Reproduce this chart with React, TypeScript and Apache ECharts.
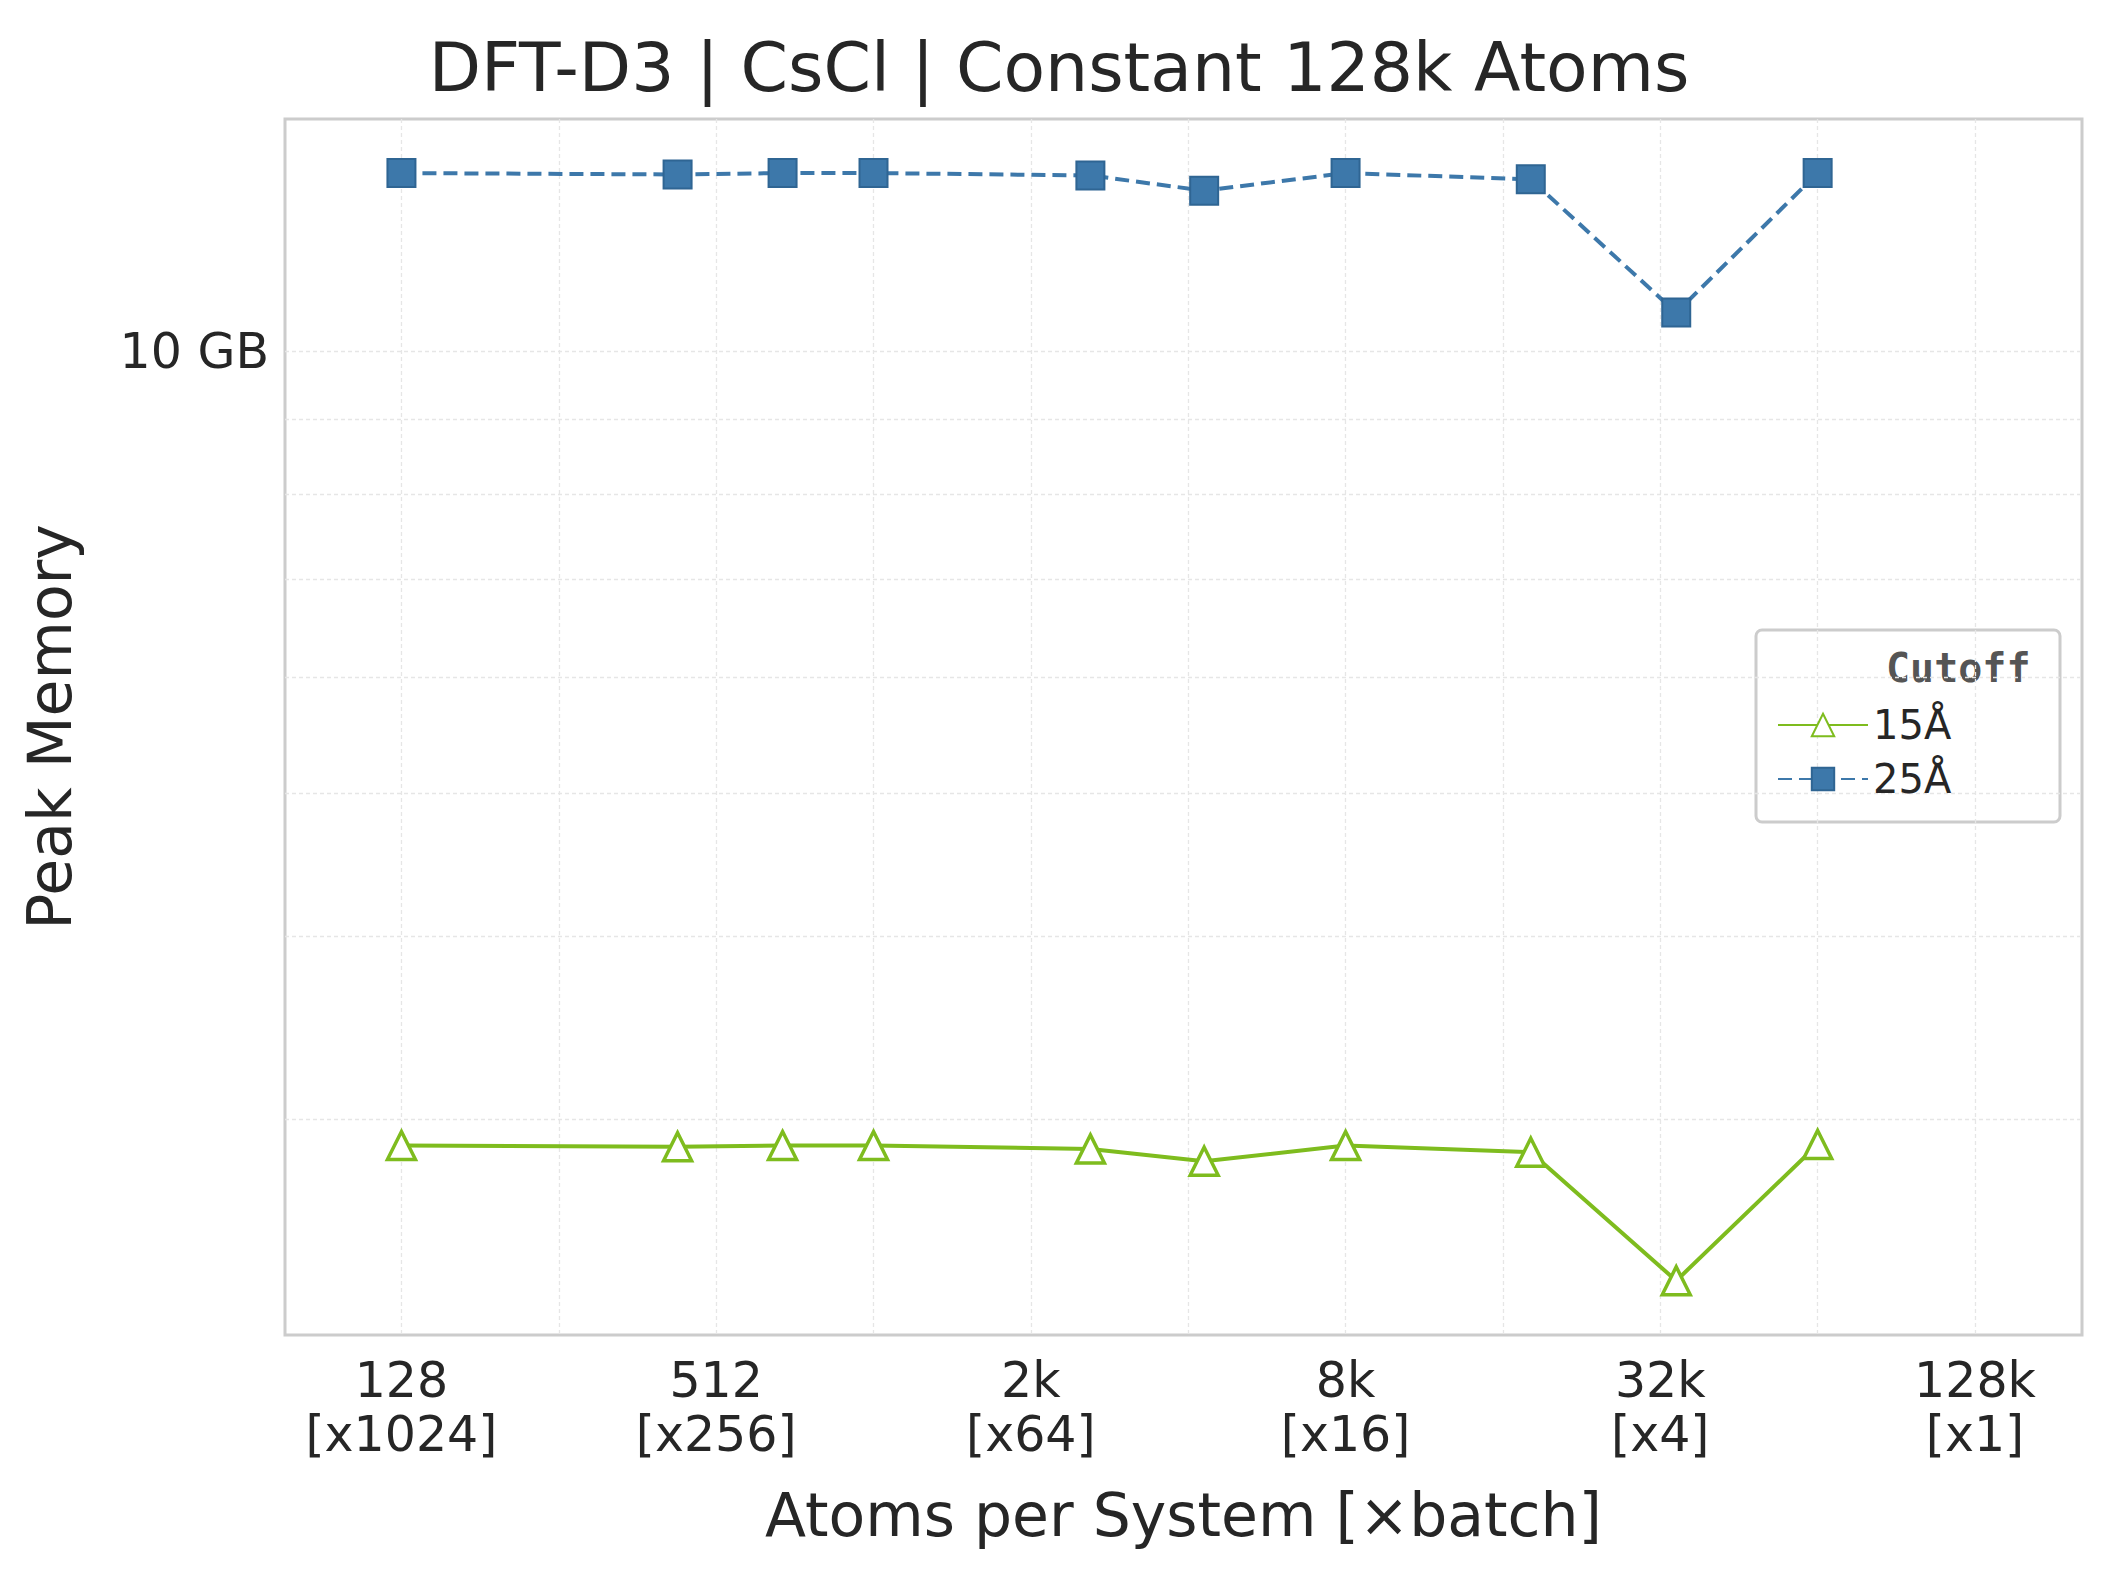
import React, { useEffect, useRef } from "react";
import * as echarts from "echarts";

const atoms = [128, 432, 686, 1024, 2662, 4394, 8192, 18522, 35152, 65536];
const mem15 = [2.88, 2.875, 2.88, 2.88, 2.865, 2.81, 2.88, 2.85, 2.33, 2.885];
const mem25 = [13.23, 13.2, 13.23, 13.23, 13.18, 12.87, 13.23, 13.1, 10.63, 13.23];
const xTickLabels: Record<number, string> = {
  7: "128\n[x1024]", 9: "512\n[x256]", 11: "2k\n[x64]", 13: "8k\n[x16]", 15: "32k\n[x4]", 17: "128k\n[x1]",
};
const yGrid = [3, 4, 5, 6, 7, 8, 9, 10];

const F = "DejaVu Sans";

export default function App() {
  const ref = useRef<HTMLDivElement>(null);
  useEffect(() => {
    const chart = echarts.init(ref.current!, undefined, { renderer: "svg" });
    const lx = (v: number) => Math.log2(v);
    const ly = (v: number) => Math.log10(v);
    chart.setOption({
      animation: false,
      backgroundColor: "#fff",
      title: {
        text: "DFT-D3 | CsCl | Constant 128k Atoms",
        left: "center", top: 28,
        textStyle: { fontFamily: F, fontSize: 68, fontWeight: "normal", color: "#262626" },
      },
      grid: { left: 285, right: 36, top: 119, bottom: 237, show: true, borderColor: "#cccccc", borderWidth: 3, backgroundColor: "transparent" },
      xAxis: {
        type: "value", min: 6.26, max: 17.68,
        name: "Atoms per System [×batch]", nameLocation: "middle", nameGap: 150,
        nameTextStyle: { fontFamily: F, fontSize: 60, color: "#262626" },
        axisLine: { show: false },
        axisTick: { show: false, customValues: [7, 8, 9, 10, 11, 12, 13, 14, 15, 16, 17] },
        splitLine: { show: true, lineStyle: { color: "#e6e6e6", type: [4, 3], width: 1.3 } },
        axisLabel: {
          customValues: [7, 9, 11, 13, 15, 17],
          formatter: (v: number) => xTickLabels[Math.round(v)] ?? "",
          fontFamily: F, fontSize: 49, color: "#262626", lineHeight: 54, margin: 18,
        },
      },
      yAxis: {
        type: "value", min: ly(2.14), max: ly(14.4),
        name: "Peak Memory", nameLocation: "middle", nameGap: 205,
        nameTextStyle: { fontFamily: F, fontSize: 60, color: "#262626" },
        axisLine: { show: false },
        axisTick: { show: false, customValues: yGrid.map(ly) },
        splitLine: { show: true, lineStyle: { color: "#e6e6e6", type: [4, 3], width: 1.3 } },
        axisLabel: {
          customValues: [1],
          formatter: (v: number) => (Math.abs(v - 1) < 1e-6 ? "10 GB" : ""),
          fontFamily: F, fontSize: 49, color: "#262626", margin: 16,
        },
      },
      legend: {
        orient: "vertical", left: 1772, top: 700, itemGap: 14,
        itemWidth: 90, itemHeight: 28,
        textStyle: { fontFamily: F, fontSize: 40, color: "#262626" },
        data: ["15Å", "25Å"],
      },
      graphic: [
        { type: "rect", shape: { x: 1756, y: 630, width: 304, height: 192, r: 6 }, style: { fill: "#fff", stroke: "#cccccc", lineWidth: 3 }, z: -1 },
        { type: "text", x: 1886, y: 648, style: { text: "Cutoff", font: "bold 40px 'DejaVu Sans Mono'", fill: "#555" } },
      ],
      series: [
        {
          name: "15Å", type: "line",
          data: atoms.map((a, i) => [lx(a), ly(mem15[i])]),
          symbol: "triangle", symbolSize: 28,
          lineStyle: { color: "#7ebc1e", width: 4 },
          itemStyle: { color: "#ffffff", borderColor: "#7ebc1e", borderWidth: 3.5 },
          z: 3,
        },
        {
          name: "25Å", type: "line",
          data: atoms.map((a, i) => [lx(a), ly(mem25[i])]),
          symbol: "rect", symbolSize: 28,
          lineStyle: { color: "#3d78aa", width: 4, type: [14, 7] },
          itemStyle: { color: "#3d78aa", borderColor: "#2f6593", borderWidth: 2 },
          z: 3,
        },
      ],
    });
    return () => chart.dispose();
  }, []);
  return <div ref={ref} style={{ position: "absolute", left: 0, top: 0, width: 2118, height: 1572 }} />;
}
